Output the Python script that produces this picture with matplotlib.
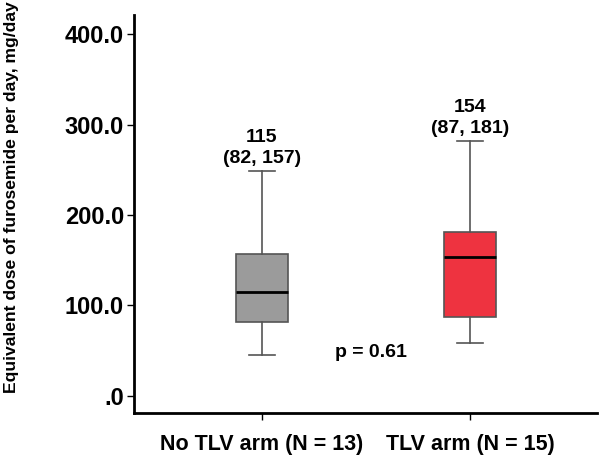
import matplotlib.pyplot as plt

# box statistics (mg/day)
groups = ["No TLV arm (N = 13)", "TLV arm (N = 15)"]
whisker_low = [45, 59]
q1 = [82, 87]
median = [115, 154]
q3 = [157, 181]
whisker_high = [249, 282]
box_colors = ["#9b9b9b", "#ee3340"]
p_text = "p = 0.61"

plt.rcParams['font.family'] = ['Liberation Sans', 'DejaVu Sans']
plt.rcParams['font.weight'] = 'bold'

fig = plt.figure(figsize=(6, 4.58), dpi=100)
ax = fig.add_axes([0.223, 0.098, 0.772, 0.869])

stats = []
for i in range(len(groups)):
    stats.append({"whislo": whisker_low[i], "q1": q1[i], "med": median[i],
                  "q3": q3[i], "whishi": whisker_high[i], "fliers": []})

bp = ax.bxp(stats, positions=[1, 2], widths=0.25, patch_artist=True,
            showfliers=False,
            boxprops=dict(edgecolor="#555555", linewidth=1.2),
            whiskerprops=dict(color="#555555", linewidth=1.2),
            capprops=dict(color="#555555", linewidth=1.2),
            medianprops=dict(color="black", linewidth=2))
for patch, c in zip(bp["boxes"], box_colors):
    patch.set_facecolor(c)

# median (IQR) labels above each box
for i in range(len(groups)):
    ax.annotate(f"{median[i]}\n({q1[i]}, {q3[i]})", (i + 1, whisker_high[i]),
                xytext=(0, 3), textcoords='offset points', ha='center',
                va='bottom', fontsize=14, fontweight='bold', linespacing=1.25)

ax.text(1.524, 47.5, p_text, ha='center', va='center', fontsize=14,
        fontweight='bold')

ax.set_xlim(0.385, 2.61)
ax.set_ylim(-19, 421)
ax.set_yticks([0, 100, 200, 300, 400])
ax.set_yticklabels([".0", "100.0", "200.0", "300.0", "400.0"])
ax.set_xticks([1, 2])
ax.set_xticklabels(groups)

for side in ["top", "right"]:
    ax.spines[side].set_visible(False)
for side in ["left", "bottom"]:
    ax.spines[side].set_linewidth(2)
ax.tick_params(axis='y', length=5, width=1, labelsize=17, pad=2)
ax.tick_params(axis='x', length=5, width=1, labelsize=15.5, pad=10)

ax.set_ylabel("Equivalent dose of furosemide per day, mg/day", fontsize=12.6,
              fontweight='bold')
ax.yaxis.set_label_coords(-0.248, 0.543)

fig.savefig("out.png", dpi=100)
